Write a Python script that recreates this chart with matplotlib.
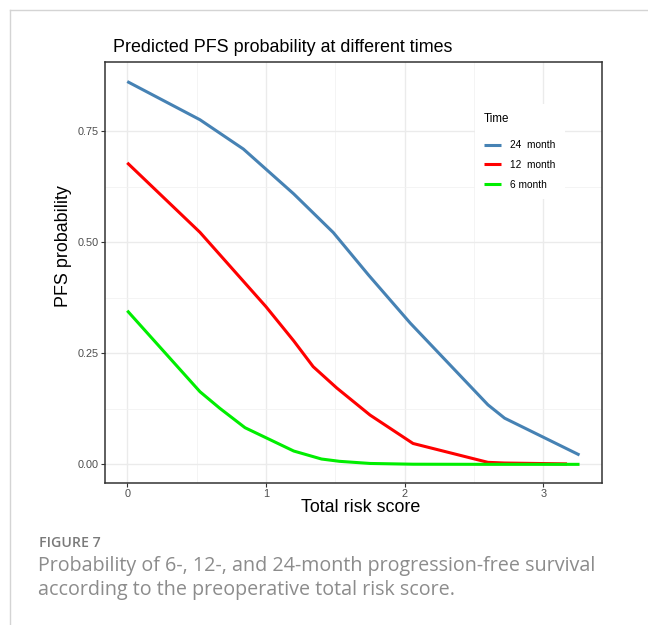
import matplotlib.pyplot as plt
from matplotlib.lines import Line2D

plt.rcParams['font.family'] = ['Liberation Sans', 'DejaVu Sans']

# values
x_24 = [0, 0.524, 0.837, 1.2, 1.485, 1.74, 2.04, 2.60, 2.72, 3.26]
p_24 = [0.862, 0.776, 0.710, 0.609, 0.522, 0.426, 0.318, 0.134, 0.104, 0.021]

x_12 = [0, 0.524, 1.0, 1.2, 1.34, 1.51, 1.75, 2.06, 2.60, 2.72, 3.17]
p_12 = [0.679, 0.5225, 0.355, 0.278, 0.22, 0.172, 0.111, 0.047, 0.0045, 0.003, 0.001]

x_6 = [0, 0.524, 0.668, 0.849, 1.2, 1.40, 1.53, 1.75, 2.06, 2.60, 3.26]
p_6 = [0.346, 0.1636, 0.126, 0.0825, 0.030, 0.012, 0.0068, 0.002, 0.0003, 0, 0]

labels = ['24  month', '12  month', '6 month']
colors = ['steelblue', 'red', '#00ee00']
xticks = [0, 1, 2, 3]
yticks = [0, 0.25, 0.5, 0.75]

W, H = 648, 625
fig = plt.figure(figsize=(W / 100, H / 100), dpi=100)

# journal frame lines
fig.add_artist(Line2D([10 / W, 1], [1 - 10 / H, 1 - 10 / H], color='#d4d4d4', lw=1))
fig.add_artist(Line2D([10 / W, 10 / W], [0, 1 - 10 / H], color='#d4d4d4', lw=1))

ax = fig.add_axes([104.5 / W, 1 - 483 / H, (602 - 104.5) / W, (483 - 62) / H])

ax.plot(x_24, p_24, color=colors[0], lw=2.2, label=labels[0], solid_capstyle='butt')
ax.plot(x_12, p_12, color=colors[1], lw=2.2, label=labels[1], solid_capstyle='butt')
ax.plot(x_6, p_6, color=colors[2], lw=2.2, label=labels[2], solid_capstyle='butt')

ax.set_xlim(-0.164, 3.422)
ax.set_ylim(-0.042, 0.906)
ax.set_xticks(xticks)
ax.set_xticklabels([str(v) for v in xticks])
ax.set_yticks(yticks)
ax.set_yticklabels(['0.00', '0.25', '0.50', '0.75'])
ax.set_xticks([0.5, 1.5, 2.5], minor=True)
ax.set_yticks([0.125, 0.375, 0.625], minor=True)
ax.tick_params(which='major', labelsize=7.8, labelcolor='#4d4d4d', color='#333333',
               length=3, width=0.8, pad=1.2)
ax.tick_params(which='minor', length=0)
ax.grid(which='major', color='#ebebeb', lw=1)
ax.grid(which='minor', color='#f2f2f2', lw=0.6)
ax.set_axisbelow(True)
for s in ax.spines.values():
    s.set_color('#333333')
    s.set_linewidth(1.1)

fig.text(113 / W, 1 - 48 / H, 'Predicted PFS probability at different times',
         fontsize=12.9, va='center', ha='left')
fig.text(361 / W, 1 - 508 / H, 'Total risk score', fontsize=12.9, ha='center', va='center')
fig.text(63 / W, 1 - 246 / H, 'PFS probability', fontsize=12.9, ha='center',
         va='center', rotation=90)

leg = ax.legend(title='Time', loc='upper left',
                bbox_to_anchor=((475 - 104.5) / (602 - 104.5), 1 - (104 - 62) / (483 - 62)),
                frameon=True, fontsize=7.3, title_fontsize=8.4, handlelength=1.7,
                handletextpad=0.9, labelspacing=0.95, borderpad=0.9, borderaxespad=0)
leg.get_frame().set_facecolor('white')
leg.get_frame().set_edgecolor('none')
leg.get_frame().set_alpha(1)
leg.get_frame().set_boxstyle('square', pad=0)
leg._legend_box.align = 'left'
leg._legend_box.sep = 11

# caption
fig.text(39 / W, 1 - 543 / H, 'FIGURE 7', fontsize=10.2, color='#7a7a7a',
         family='Open Sans', weight='semibold', va='center')
fig.text(38 / W, 1 - 566 / H, 'Probability of 6-, 12-, and 24-month progression-free survival',
         fontsize=14.2, color='#8c8c8c', family='Open Sans', va='center')
fig.text(38 / W, 1 - 590 / H, 'according to the preoperative total risk score.',
         fontsize=14.2, color='#8c8c8c', family='Open Sans', va='center')

fig.savefig('out.png', dpi=100)
